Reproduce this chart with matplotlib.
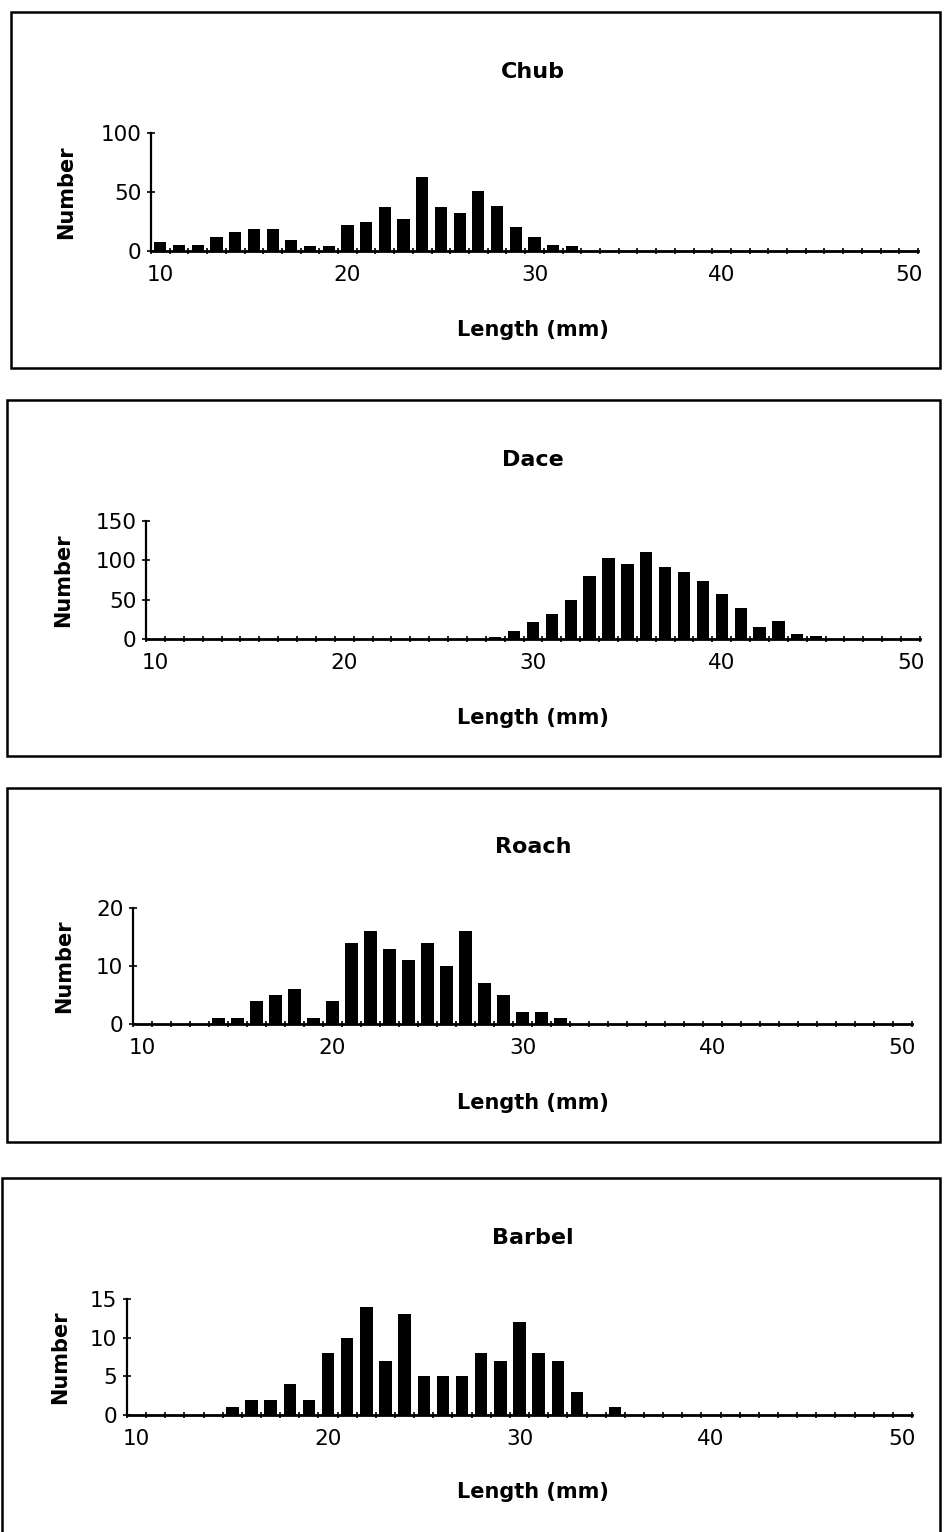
"""
Length-frequency histograms for four fish species, one boxed panel each.
"""
import matplotlib
matplotlib.use("Agg")
import matplotlib.pyplot as plt
from matplotlib.patches import Rectangle

W, H = 948, 1532

lengths = list(range(10, 51))  # 10 .. 50 mm
tick_lengths = [10, 20, 30, 40, 50]

chub = [8, 5, 5, 12, 16, 19, 19, 9, 4, 4, 22, 25, 37, 27, 63, 37, 32, 51, 38,
        20, 12, 5, 4] + [0] * 18
dace = [0] * 18 + [3, 10, 22, 32, 49, 80, 103, 95, 110, 92, 85, 74, 57, 39,
                   15, 23, 6, 4] + [0] * 5
roach = [0] * 4 + [1, 1, 4, 5, 6, 1, 4, 14, 16, 13, 11, 14, 10, 16, 7, 5, 2,
                   2, 1] + [0] * 18
barbel = [0] * 5 + [1, 2, 2, 4, 2, 8, 10, 14, 7, 13, 5, 5, 5, 8, 7, 12, 8, 7,
                    3, 0, 1] + [0] * 15

chub_yticks = [0, 50, 100]
dace_yticks = [0, 50, 100, 150]
roach_yticks = [0, 10, 20]
barbel_yticks = [0, 5, 10, 15]

plt.rcParams["font.family"] = ["DejaVu Sans"]

fig = plt.figure(figsize=(W / 100, H / 100), dpi=100)
fig.patch.set_facecolor("white")


def _fx(x):
    return x / W


def _fy(y):
    return 1 - y / H


def draw_panel(box, axpx, title, counts, yticks, ylabel_x, title_y, xlabel_y):
    # box: (left, top, right, bottom) in pixels; axpx the same for the axes
    bl, bt, br, bb = box
    fig.patches.append(Rectangle((_fx(bl), _fy(bb)), _fx(br - bl), (bb - bt) / H,
                                 transform=fig.transFigure, fill=False,
                                 edgecolor="black", linewidth=1.8))
    al, at, ar, ab = axpx
    ax = fig.add_axes([_fx(al), _fy(ab), _fx(ar - al), (ab - at) / H])
    pos = list(range(len(lengths)))
    ax.bar(pos, counts, width=0.65, color="black", edgecolor="black", linewidth=0)
    ax.set_xlim(-0.5, len(lengths) - 0.5)
    ax.set_ylim(0, yticks[-1])

    # tick marks on category boundaries, labels at category centres
    ax.set_xticks([p - 0.5 for p in pos] + [len(lengths) - 0.5])
    ax.set_xticklabels([])
    ax.set_xticks([lengths.index(t) for t in tick_lengths], minor=True)
    ax.set_xticklabels([str(t) for t in tick_lengths], minor=True)
    ax.tick_params(axis="x", which="major", direction="inout", length=5, width=1.2)
    ax.tick_params(axis="x", which="minor", length=0, pad=10, labelsize=15.5)
    ax.set_yticks(yticks)
    ax.set_yticklabels([str(t) for t in yticks])
    ax.tick_params(axis="y", direction="inout", length=6, width=1.2, pad=4,
                   labelsize=15.5)

    for side in ("top", "right"):
        ax.spines[side].set_visible(False)
    ax.spines["left"].set_linewidth(1.6)
    ax.spines["bottom"].set_linewidth(2.0)
    ax.set_facecolor("none")

    cx = 533
    fig.text(_fx(cx), _fy(title_y), title, ha="center", va="center",
             fontsize=16, fontweight="bold")
    fig.text(_fx(cx), _fy(xlabel_y), "Length (mm)", ha="center", va="center",
             fontsize=15, fontweight="bold")
    fig.text(_fx(ylabel_x), _fy((at + ab) / 2), "Number", ha="center", va="center",
             rotation=90, fontsize=15, fontweight="bold")


draw_panel((11, 12, 940, 368), (151, 133, 918, 251), "Chub", chub,
           chub_yticks, 66, 72, 330)
draw_panel((7, 400, 940, 756), (146, 521, 920, 639), "Dace", dace,
           dace_yticks, 63, 460, 718)
draw_panel((7, 788, 940, 1142), (133, 908, 912, 1024), "Roach", roach,
           roach_yticks, 64, 847, 1103)
draw_panel((2, 1178, 940, 1545), (127, 1299, 912, 1415), "Barbel", barbel,
           barbel_yticks, 60, 1238, 1492)

fig.savefig("out.png", dpi=100, facecolor="white")
plt.close(fig)
